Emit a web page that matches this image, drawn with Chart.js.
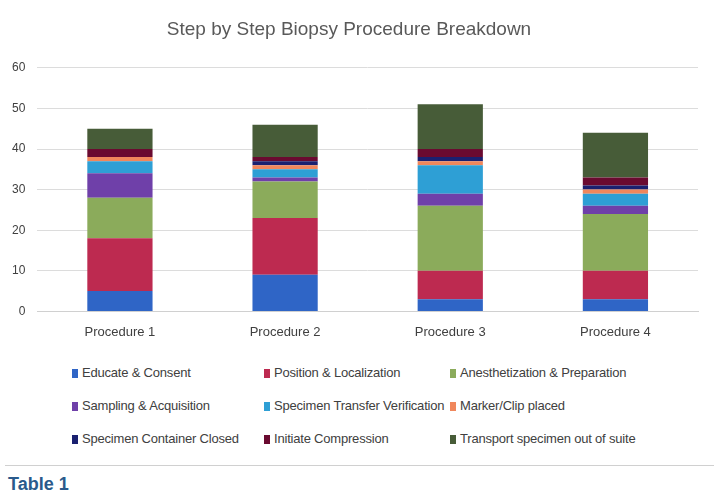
<!DOCTYPE html>
<html>
<head>
<meta charset="utf-8">
<script src="https://cdn.jsdelivr.net/npm/chart.js@4/dist/chart.umd.min.js"></script>
<style>
  body { margin: 0; background: #fff; width: 720px; height: 503px; overflow: hidden;
         font-family: 'Liberation Sans', Arial, sans-serif; }
  #wrap { position: relative; width: 720px; height: 345px; }
  #legend { position: absolute; left: 72px; top: 365px; width: 620px; }
  .item { position: absolute; font-size: 13px; color: #404040; white-space: nowrap; letter-spacing: -0.2px; }
  .item i { display: inline-block; width: 6px; height: 9px; margin-right: 4px; vertical-align: -1px; }
  #rule { position: absolute; left: 5px; right: 6px; top: 465px; border-top: 1px solid #d0d0d0; }
  #cap { position: absolute; left: 8px; top: 474px; font-size: 18px; font-weight: bold; color: #2a5a8c; }
</style>
</head>
<body>
<div id="wrap"><canvas id="chart"></canvas></div>
<div id="legend"></div>
<div id="rule"></div>
<div id="cap">Table 1</div>
<script>
// procedures on the x axis
const procedures = ['Procedure 1', 'Procedure 2', 'Procedure 3', 'Procedure 4'];

// minutes per step, one array per step
const educate      = [5, 9, 3, 3];
const position     = [13, 14, 7, 7];
const anesthesia   = [10, 9, 16, 14];
const sampling     = [6, 1, 3, 2];
const transfer     = [3, 2, 7, 3];
const marker       = [1, 1, 1, 1];
const container    = [0, 1, 1, 1];
const compression  = [2, 1, 2, 2];
const transport    = [5, 8, 11, 11];

const stepNames = ['Educate & Consent', 'Position & Localization', 'Anesthetization & Preparation',
                   'Sampling & Acquisition', 'Specimen Transfer Verification', 'Marker/Clip placed',
                   'Specimen Container Closed', 'Initiate Compression', 'Transport specimen out of suite'];
const stepValues = [educate, position, anesthesia, sampling, transfer, marker, container, compression, transport];
const stepColors = ['#2f65c6', '#bd2a50', '#8bab5b', '#6f40a9', '#2e9fd5', '#f0875c', '#1a2070', '#6a0a30', '#475c38'];

const yTicks = [0, 10, 20, 30, 40, 50, 60];

const datasets = stepNames.map((name, i) => ({
    label: name,
    data: stepValues[i],
    backgroundColor: stepColors[i],
    borderWidth: 0,
    barPercentage: 0.5,
    categoryPercentage: 0.79
}));

const fontFam = "'Liberation Sans', Arial, sans-serif";

new Chart(document.getElementById('chart'), {
    type: 'bar',
    data: { labels: procedures, datasets: datasets },
    options: {
        responsive: true,
        maintainAspectRatio: false,
        animation: false,
        layout: { padding: { left: 0, right: 22, top: 10, bottom: 0 } },
        plugins: {
            legend: { display: false },
            tooltip: { enabled: false },
            title: {
                display: true,
                text: 'Step by Step Biopsy Procedure Breakdown',
                color: '#595959',
                font: { family: fontFam, size: 19, weight: 'normal' },
                padding: { top: 8, bottom: 27 }
            }
        },
        scales: {
            x: {
                stacked: true,
                grid: { display: false },
                border: { color: '#d0d0d0' },
                ticks: { color: '#404040', font: { family: fontFam, size: 13 }, padding: 5 }
            },
            y: {
                stacked: true,
                min: yTicks[0],
                max: yTicks[yTicks.length - 1],
                afterBuildTicks: (axis) => { axis.ticks = yTicks.map(v => ({ value: v })); },
                grid: { color: '#dcdcdc', drawTicks: false },
                border: { display: false },
                ticks: { color: '#404040', font: { family: fontFam, size: 12 }, padding: 12 }
            }
        }
    }
});

// three-column legend under the chart
const legend = document.getElementById('legend');
const colX = [0, 192, 378];
stepNames.forEach((name, i) => {
    const div = document.createElement('div');
    div.className = 'item';
    div.style.left = colX[i % 3] + 'px';
    div.style.top = (Math.floor(i / 3) * 33) + 'px';
    div.innerHTML = '<i style="background:' + stepColors[i] + '"></i>';
    div.appendChild(document.createTextNode(name));
    legend.appendChild(div);
});
</script>
</body>
</html>
